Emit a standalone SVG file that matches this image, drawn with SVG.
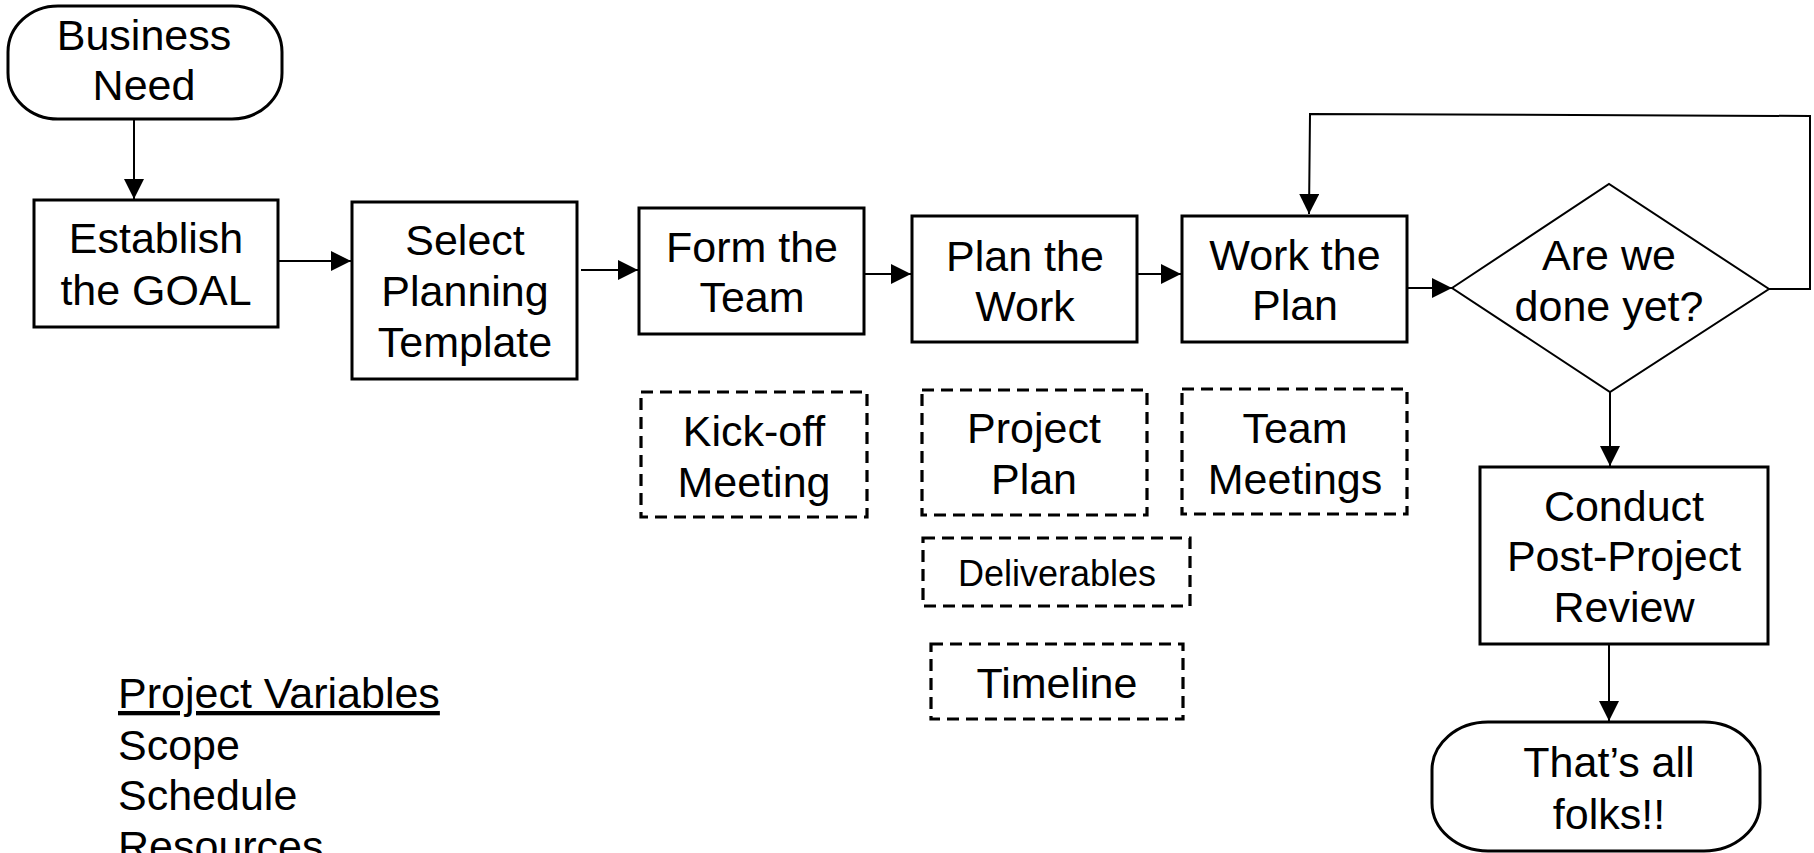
<svg xmlns="http://www.w3.org/2000/svg" width="1814" height="853" viewBox="0 0 1814 853">
<style>
  text { font-family: "Liberation Sans", Arial, sans-serif; font-size: 43px; fill: #000; text-anchor: middle; }
  .box { fill: #fff; stroke: #000; stroke-width: 3; }
  .dash { fill: none; stroke: #000; stroke-width: 3.2; stroke-dasharray: 12 7; }
  .dia { fill: #fff; stroke: #000; stroke-width: 2; }
  .conn { fill: none; stroke: #000; stroke-width: 2; }
  .arr { marker-end: url(#ah); }
  .left { text-anchor: start; }
</style>
<defs>
  <marker id="ah" markerUnits="userSpaceOnUse" markerWidth="20" markerHeight="20" refX="20" refY="10" orient="auto">
    <path d="M0,0 L20,10 L0,20 Z" fill="#000"/>
  </marker>
</defs>
<rect width="1814" height="853" fill="#fff"/>

<g id="connectors">
  <path class="conn arr" d="M134,119 V199"/>
  <path class="conn arr" d="M278,261 H351"/>
  <path class="conn arr" d="M581,270 H638"/>
  <path class="conn arr" d="M865,274 H911"/>
  <path class="conn arr" d="M1138,274 H1181"/>
  <path class="conn arr" d="M1408,288 L1452,288"/>
  <path class="conn arr" d="M1769,289 H1810 V116 L1310,114 L1309,214"/>
  <path class="conn arr" d="M1610,392 V466"/>
  <path class="conn arr" d="M1609,644 V721"/>
</g>

<g id="business-need">
  <rect class="box" x="8" y="6" width="274" height="113" rx="50" ry="46"/>
  <text x="144" y="50">Business</text>
  <text x="144" y="100">Need</text>
</g>
<g id="establish-goal">
  <rect class="box" x="34" y="200" width="244" height="127"/>
  <text x="156" y="253">Establish</text>
  <text x="156" y="305">the GOAL</text>
</g>
<g id="select-template">
  <rect class="box" x="352" y="202" width="225" height="177"/>
  <text x="465" y="255">Select</text>
  <text x="465" y="306">Planning</text>
  <text x="465" y="357">Template</text>
</g>
<g id="form-team">
  <rect class="box" x="639" y="208" width="225" height="126"/>
  <text x="752" y="262">Form the</text>
  <text x="752" y="312">Team</text>
</g>
<g id="plan-work">
  <rect class="box" x="912" y="216" width="225" height="126"/>
  <text x="1025" y="271">Plan the</text>
  <text x="1025" y="321">Work</text>
</g>
<g id="work-plan">
  <rect class="box" x="1182" y="216" width="225" height="126"/>
  <text x="1295" y="270">Work the</text>
  <text x="1295" y="320">Plan</text>
</g>
<g id="done-yet">
  <polygon class="dia" points="1452,288 1609,184 1769,289 1610,392"/>
  <text x="1609" y="270">Are we</text>
  <text x="1609" y="321">done yet?</text>
</g>
<g id="post-review">
  <rect class="box" x="1480" y="467" width="288" height="177"/>
  <text x="1624" y="521">Conduct</text>
  <text x="1624" y="571">Post-Project</text>
  <text x="1624" y="622">Review</text>
</g>
<g id="all-folks">
  <rect class="box" x="1432" y="722" width="328" height="129" rx="56" ry="48"/>
  <text x="1609" y="777">That’s all</text>
  <text x="1609" y="829">folks!!</text>
</g>
<g id="kickoff">
  <rect class="dash" x="641" y="392" width="226" height="125"/>
  <text x="754" y="446">Kick-off</text>
  <text x="754" y="497">Meeting</text>
</g>
<g id="project-plan">
  <rect class="dash" x="922" y="390" width="225" height="125"/>
  <text x="1034" y="443">Project</text>
  <text x="1034" y="494">Plan</text>
</g>
<g id="team-meetings">
  <rect class="dash" x="1182" y="389" width="225" height="125"/>
  <text x="1295" y="443">Team</text>
  <text x="1295" y="494">Meetings</text>
</g>
<g id="deliverables">
  <rect class="dash" x="923" y="538" width="267" height="68"/>
  <text x="1057" y="586" style="font-size:36px">Deliverables</text>
</g>
<g id="timeline">
  <rect class="dash" x="931" y="644" width="252" height="75"/>
  <text x="1057" y="698">Timeline</text>
</g>
<g id="project-variables">
  <text class="left" x="118" y="708" text-decoration="underline">Project Variables</text>
  <text class="left" x="118" y="760">Scope</text>
  <text class="left" x="118" y="810">Schedule</text>
  <text class="left" x="118" y="861">Resources</text>
</g>
</svg>
